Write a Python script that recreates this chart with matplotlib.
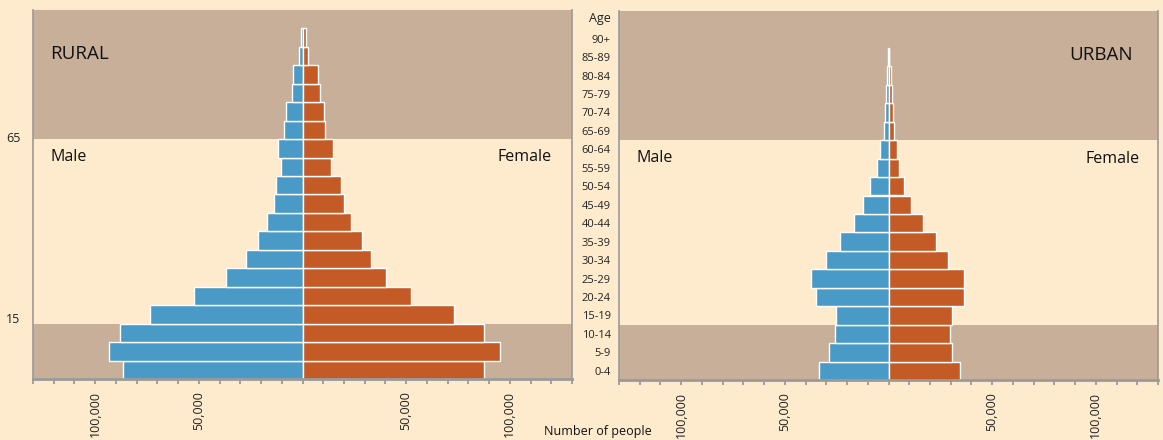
import matplotlib.pyplot as plt
import matplotlib as mpl
import numpy as np
from matplotlib.ticker import FixedLocator, MultipleLocator

# age groups, youngest first
ages = ['0-4', '5-9', '10-14', '15-19', '20-24', '25-29', '30-34', '35-39', '40-44',
        '45-49', '50-54', '55-59', '60-64', '65-69', '70-74', '75-79', '80-84',
        '85-89', '90+']

# population counts (thousands)
rural_male = [86.7, 93.5, 87.9, 73.8, 52.3, 36.9, 27.2, 21.4, 17.2, 13.9,
              12.6, 10.2, 11.7, 8.9, 7.8, 5.2, 4.6, 1.6, 0.5]
rural_female = [87.7, 95.3, 87.7, 73.0, 52.4, 40.3, 33.2, 28.9, 23.6, 19.9,
                18.6, 13.6, 14.9, 11.0, 10.5, 8.6, 7.4, 2.7, 1.6]
urban_male = [33.7, 28.5, 25.9, 25.4, 34.8, 37.4, 30.0, 23.6, 16.7, 12.5,
              8.9, 5.6, 4.0, 2.4, 1.5, 1.0, 0.5, 0.2, 0.0]
urban_female = [34.5, 30.8, 29.7, 30.8, 36.5, 36.5, 28.7, 22.7, 16.5, 11.0,
                7.3, 4.9, 4.1, 2.8, 2.4, 1.7, 1.2, 0.3, 0.0]

x_labels = ['100,000', '50,000', '50,000', '100,000']
x_label_pos = [-100000, -50000, 50000, 100000]

bg = '#feebcd'
band = '#c8af9a'
blue = '#4a9ac7'
orange = '#c45b27'
spine = '#9a9a9a'

mpl.rc('font', family=['Open Sans', 'DejaVu Sans'])

fig = plt.figure(figsize=(11.63, 4.40), dpi=100, facecolor=bg)
ax_r = fig.add_axes([33/1163, 1-379/440, 539/1163, 369/440])
ax_u = fig.add_axes([619/1163, 1-380/440, 539/1163, 369/440])

y = np.arange(len(ages))


def pyramid(ax, male, female):
    male = np.array(male)*1000
    female = np.array(female)*1000
    ax.set_facecolor(bg)
    ax.axhspan(12.5, 19.5, color=band, lw=0, zorder=0)
    ax.axhspan(-0.5, 2.5, color=band, lw=0, zorder=0)
    # skip empty groups so no stray edge lines get drawn
    m = male > 0
    f = female > 0
    ax.barh(y[m], -male[m], height=1.0, color=blue,
            edgecolor='white', linewidth=1, zorder=2)
    ax.barh(y[f], female[f], height=1.0, color=orange,
            edgecolor='white', linewidth=1, zorder=2)
    ax.set_xlim(-130000, 130000)
    ax.set_ylim(-0.5, 19.5)
    ax.spines['top'].set_visible(False)
    for s in ['left', 'right']:
        ax.spines[s].set_color(spine)
        ax.spines[s].set_linewidth(1.2)
    ax.spines['bottom'].set_color(spine)
    ax.spines['bottom'].set_linewidth(2)
    ax.xaxis.set_major_locator(FixedLocator(x_label_pos))
    ax.set_xticklabels(x_labels, rotation=90, fontsize=9, color='#222222')
    ax.xaxis.set_minor_locator(MultipleLocator(10000))
    ax.tick_params(axis='x', which='both', direction='out', length=3.5,
                   width=1.3, color=spine, pad=5)
    ax.text(-121500, 11.55, 'Male', fontsize=11.5, ha='left', va='center', color='#111111')


pyramid(ax_r, rural_male, rural_female)
ax_r.text(120000, 11.55, 'Female', fontsize=11.5, ha='right', va='center', color='#111111')
ax_r.text(-121500, 17.1, 'RURAL', fontsize=13.5, ha='left', va='center', color='#111111')
ax_r.set_yticks([12.6, 2.8])
ax_r.set_yticklabels(['65', '15'], fontsize=9, color='#222222')
ax_r.tick_params(axis='y', length=0, pad=9)

pyramid(ax_u, urban_male, urban_female)
ax_u.text(121300, 11.5, 'Female', fontsize=11.5, ha='right', va='center', color='#111111')
ax_u.text(118000, 17.1, 'URBAN', fontsize=13.5, ha='right', va='center', color='#111111')
ax_u.set_yticks(list(y) + [19.15])
ax_u.set_yticklabels(ages + ['Age'], fontsize=8, color='#222222')
ax_u.get_yticklabels()[-1].set_fontsize(9)
ax_u.tick_params(axis='y', length=0, pad=6)

fig.text(598/1163, 1-431/440, 'Number of people', fontsize=9, ha='center', va='center',
         color='#111111')

plt.savefig('out.png', dpi=100, facecolor=bg)
